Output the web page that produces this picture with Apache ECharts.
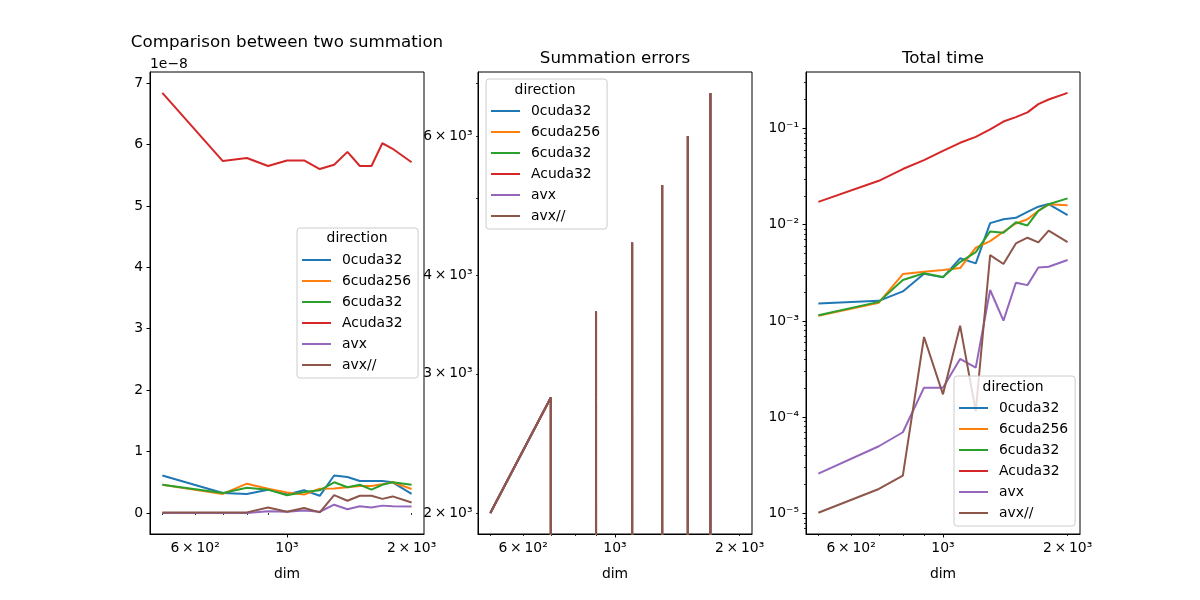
<!DOCTYPE html>
<html>
<head>
<meta charset="utf-8">
<script src="https://cdn.jsdelivr.net/npm/echarts@6/dist/echarts.min.js"></script>
<style>
  html, body { margin: 0; padding: 0; background: #fff; }
  #chart { width: 1200px; height: 600px; }
</style>
</head>
<body>
<div id="chart"></div>
<script>
// ---------------- DATA ----------------
const dims = [500, 700, 800, 900, 1000, 1100, 1200, 1300, 1400, 1500, 1600, 1700, 1800, 2000];
const seriesNames = ['0cuda32', '6cuda256', '6cuda32', 'Acuda32', 'avx', 'avx//'];
const colors = ['#1f77b4', '#ff7f0e', '#2ca02c', '#d62728', '#9467bd', '#8c564b'];

// Panel 1: Comparison between two summation (values in units of 1e-8)
const cmp_0cuda32  = [0.61, 0.325, 0.31, 0.38, 0.30, 0.37, 0.28, 0.61, 0.585, 0.52, 0.52, 0.52, 0.50, 0.31];
const cmp_6cuda256 = [0.46, 0.31, 0.477, 0.395, 0.335, 0.30, 0.395, 0.40, 0.42, 0.44, 0.44, 0.47, 0.50, 0.39];
const cmp_6cuda32  = [0.46, 0.325, 0.41, 0.38, 0.29, 0.34, 0.37, 0.50, 0.42, 0.46, 0.38, 0.46, 0.50, 0.46];
const cmp_Acuda32  = [6.84, 5.73, 5.78, 5.65, 5.74, 5.74, 5.60, 5.67, 5.88, 5.65, 5.65, 6.02, 5.93, 5.71];
const cmp_avx      = [0.0, 0.0, 0.0, 0.03, 0.02, 0.04, 0.02, 0.135, 0.06, 0.11, 0.09, 0.12, 0.11, 0.105];
const cmp_avxpar   = [0.01, 0.01, 0.01, 0.09, 0.02, 0.08, 0.01, 0.29, 0.20, 0.28, 0.28, 0.23, 0.27, 0.17];

// Panel 2: Summation errors (identical for all six series; 0 = no error)
const err_all = [2000, 2800, 0, 3600, 0, 4400, 0, 5200, 0, 6000, 0, 6800, 0, 0];

// Panel 3: Total time
const t_0cuda32  = [0.00152, 0.00162, 0.00203, 0.0031, 0.00284, 0.00448, 0.00397, 0.0104, 0.0114, 0.0118, 0.0136, 0.0154, 0.0164, 0.0126];
const t_6cuda256 = [0.00113, 0.00155, 0.00307, 0.00325, 0.00339, 0.00355, 0.00577, 0.00676, 0.00845, 0.0103, 0.0114, 0.014, 0.0163, 0.0159];
const t_6cuda32  = [0.00115, 0.00158, 0.00267, 0.00313, 0.00286, 0.00409, 0.0052, 0.00853, 0.00826, 0.0106, 0.00984, 0.0139, 0.0163, 0.0188];
const t_Acuda32  = [0.0173, 0.0286, 0.0379, 0.0469, 0.0586, 0.071, 0.0819, 0.0977, 0.118, 0.131, 0.147, 0.179, 0.2, 0.234];
const t_avx      = [2.6e-5, 5.0e-5, 6.99e-5, 2.03e-4, 2.03e-4, 4.04e-4, 3.28e-4, 0.0021, 0.00101, 0.0025, 0.00236, 0.0036, 0.00366, 0.0043];
const t_avxpar   = [1.02e-5, 1.8e-5, 2.48e-5, 6.83e-4, 1.73e-4, 8.95e-4, 1.16e-4, 0.00484, 0.00391, 0.0064, 0.00733, 0.00656, 0.00867, 0.0066];

// Tick values and labels
const xMajorTicks = [1000];
const xMinorTicks = [500, 600, 700, 800, 900, 2000];
const xLabelValues = [600, 1000, 2000];
const xLabelTexts = ['6\u2009×\u200910²', '10³', '2\u2009×\u200910³'];

const cmpTicks = [0, 1, 2, 3, 4, 5, 6, 7];
const cmpTickLabels = ['0', '1', '2', '3', '4', '5', '6', '7'];

const errTicks = [2000, 3000, 4000, 5000, 6000, 7000];
const errLabelValues = [2000, 3000, 4000, 6000];
const errLabelTexts = ['2\u2009×\u200910³', '3\u2009×\u200910³', '4\u2009×\u200910³', '6\u2009×\u200910³'];

const timeMajorTicks = [1e-5, 1e-4, 1e-3, 1e-2, 1e-1];
const timeMajorLabels = ['10⁻⁵', '10⁻⁴', '10⁻³', '10⁻²', '10⁻¹'];
const timeMinorTicks = [7e-6, 8e-6, 9e-6,
  2e-5, 3e-5, 4e-5, 5e-5, 6e-5, 7e-5, 8e-5, 9e-5,
  2e-4, 3e-4, 4e-4, 5e-4, 6e-4, 7e-4, 8e-4, 9e-4,
  2e-3, 3e-3, 4e-3, 5e-3, 6e-3, 7e-3, 8e-3, 9e-3,
  2e-2, 3e-2, 4e-2, 5e-2, 6e-2, 7e-2, 8e-2, 9e-2,
  2e-1, 3e-1];

// ---------------- CHART ----------------
const FONT = 'DejaVu Sans';
const TICK_FS = 13.9;
const chart = echarts.init(document.getElementById('chart'), null, { renderer: 'canvas' });

const gridBoxes = [
  { left: 150, top: 72, width: 274, height: 462 },
  { left: 478, top: 72, width: 274, height: 462 },
  { left: 806, top: 72, width: 274, height: 462 }
];
const X_MIN = 466.8, X_MAX = 2143;

function lookupLabel(values, texts, v) {
  let best = -1, bestD = Infinity;
  for (let i = 0; i < values.length; i++) {
    const d = Math.abs(Math.log(values[i]) - Math.log(v));
    if (d < bestD) { bestD = d; best = i; }
  }
  return bestD < 1e-3 ? texts[best] : '';
}
function lookupLin(values, texts, v) {
  for (let i = 0; i < values.length; i++) if (Math.abs(values[i] - v) < 1e-6) return texts[i];
  return '';
}

const grids = gridBoxes.map(g => Object.assign({ show: true, borderColor: '#000', borderWidth: 1, backgroundColor: 'transparent', containLabel: false }, g));

const xAxes = [];
gridBoxes.forEach((g, gi) => {
  xAxes.push({
    type: 'log', gridIndex: gi, position: 'bottom', min: X_MIN, max: X_MAX,
    name: 'dim', nameLocation: 'middle', nameGap: 33,
    nameTextStyle: { fontSize: TICK_FS, color: '#000', fontFamily: FONT },
    axisLine: { show: true, onZero: false, lineStyle: { color: '#000', width: 1 } },
    axisTick: { show: true, length: 3.5, lineStyle: { color: '#000', width: 1 }, customValues: xMajorTicks },
    axisLabel: { show: true, margin: 7, fontSize: TICK_FS, color: '#000', fontFamily: FONT,
      customValues: xLabelValues, formatter: v => lookupLabel(xLabelValues, xLabelTexts, v) },
    splitLine: { show: false }, minorTick: { show: false }
  });
  xAxes.push({
    type: 'log', gridIndex: gi, position: 'bottom', min: X_MIN, max: X_MAX,
    axisLine: { show: false },
    axisTick: { show: true, length: 2, lineStyle: { color: '#000', width: 0.8 }, customValues: xMinorTicks },
    axisLabel: { show: false },
    splitLine: { show: false }
  });
});

const yAxes = [
  { // 0: comparison (linear)
    type: 'value', gridIndex: 0, position: 'left', min: -0.342, max: 7.18,
    axisLine: { show: true, onZero: false, lineStyle: { color: '#000', width: 1 } },
    axisTick: { show: true, length: 3.5, lineStyle: { color: '#000', width: 1 }, customValues: cmpTicks },
    axisLabel: { show: true, margin: 7, fontSize: TICK_FS, color: '#000', fontFamily: FONT,
      customValues: cmpTicks, formatter: v => lookupLin(cmpTicks, cmpTickLabels, v) },
    splitLine: { show: false }
  },
  { // 1: errors (log)
    type: 'log', gridIndex: 1, position: 'left', min: 1881, max: 7230,
    axisLine: { show: true, onZero: false, lineStyle: { color: '#000', width: 1 } },
    axisTick: { show: true, length: 2, lineStyle: { color: '#000', width: 0.8 }, customValues: errTicks },
    axisLabel: { show: true, margin: 5.5, fontSize: TICK_FS, color: '#000', fontFamily: FONT,
      customValues: errLabelValues, formatter: v => lookupLabel(errLabelValues, errLabelTexts, v) },
    splitLine: { show: false }
  },
  { // 2: time (log) major
    type: 'log', gridIndex: 2, position: 'left', min: 6.13e-6, max: 0.386,
    axisLine: { show: true, onZero: false, lineStyle: { color: '#000', width: 1 } },
    axisTick: { show: true, length: 3.5, lineStyle: { color: '#000', width: 1 }, customValues: timeMajorTicks },
    axisLabel: { show: true, margin: 7, fontSize: TICK_FS, color: '#000', fontFamily: FONT,
      customValues: timeMajorTicks, formatter: v => lookupLabel(timeMajorTicks, timeMajorLabels, v) },
    splitLine: { show: false }
  },
  { // 3: time (log) minor
    type: 'log', gridIndex: 2, position: 'left', min: 6.13e-6, max: 0.386,
    axisLine: { show: false },
    axisTick: { show: true, length: 2, lineStyle: { color: '#000', width: 0.8 }, customValues: timeMinorTicks },
    axisLabel: { show: false },
    splitLine: { show: false }
  }
];

const cmpData = [cmp_0cuda32, cmp_6cuda256, cmp_6cuda32, cmp_Acuda32, cmp_avx, cmp_avxpar];
const errData = [err_all, err_all, err_all, err_all, err_all, err_all];
const timeData = [t_0cuda32, t_6cuda256, t_6cuda32, t_Acuda32, t_avx, t_avxpar];

// Like matplotlib's log-scale "clip" behaviour: non-positive values are drawn far below the axis
const LOG_CLIP_FLOOR = 1e-300;

const series = [];
function addSeries(dataSets, xIdx, yIdx, isLog) {
  dataSets.forEach((vals, i) => {
    series.push({
      type: 'line', name: seriesNames[i], xAxisIndex: xIdx, yAxisIndex: yIdx,
      data: dims.map((d, k) => [d, (isLog && vals[k] <= 0) ? LOG_CLIP_FLOOR : vals[k]]),
      showSymbol: false, symbol: 'none', clip: true, silent: true,
      lineStyle: { color: colors[i], width: 2 }, itemStyle: { color: colors[i] },
      emphasis: { disabled: true }, animation: false
    });
  });
}
addSeries(cmpData, 0, 0, false);
addSeries(errData, 2, 1, true);
addSeries(timeData, 4, 2, true);

const legendBoxes = [
  { left: 297, top: 228 },
  { left: 486, top: 79 },
  { left: 954, top: 376 }
];
const legends = legendBoxes.map(b => ({
  orient: 'vertical', left: b.left, top: b.top,
  padding: [25, 7, 6, 5], itemWidth: 29, itemHeight: 2, itemGap: 7, icon: 'rect',
  backgroundColor: 'rgba(255,255,255,0.8)', borderColor: '#cccccc', borderWidth: 1, borderRadius: 3,
  textStyle: { fontSize: TICK_FS, color: '#000', fontFamily: FONT, padding: [0, 0, 0, 6], lineHeight: 14 },
  data: seriesNames, selectedMode: false, z: 10
}));

const titleStyle = { fontSize: 16.7, fontWeight: 'normal', color: '#000', fontFamily: FONT };
const legendTitleStyle = { fontSize: TICK_FS, fontWeight: 'normal', color: '#000', fontFamily: FONT };
const titles = [
  { text: 'Comparison between two summation', left: 287, top: 34, textAlign: 'center', padding: 0, textStyle: titleStyle },
  { text: 'Summation errors', left: 615, top: 50, textAlign: 'center', padding: 0, textStyle: titleStyle },
  { text: 'Total time', left: 943, top: 50, textAlign: 'center', padding: 0, textStyle: titleStyle },
  { text: '1e\u22128', left: 150, top: 57, textAlign: 'left', padding: 0, textStyle: legendTitleStyle },
  { text: 'direction', left: 357, top: 231, textAlign: 'center', padding: 0, textStyle: legendTitleStyle, z: 20 },
  { text: 'direction', left: 545, top: 83, textAlign: 'center', padding: 0, textStyle: legendTitleStyle, z: 20 },
  { text: 'direction', left: 1013, top: 380, textAlign: 'center', padding: 0, textStyle: legendTitleStyle, z: 20 }
];

chart.setOption({
  animation: false,
  backgroundColor: '#ffffff',
  title: titles,
  legend: legends,
  grid: grids,
  xAxis: xAxes,
  yAxis: yAxes,
  series: series
});
</script>
</body>
</html>
